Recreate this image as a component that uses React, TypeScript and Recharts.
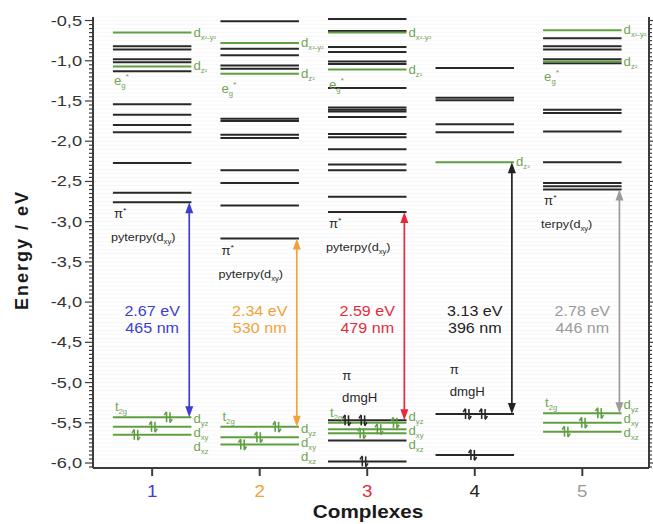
import React from 'react';
import { ComposedChart, XAxis, YAxis, ReferenceLine, Scatter, Label, CartesianGrid } from 'recharts';

const FONT = '"Liberation Sans", Arial, Helvetica, sans-serif';
const GREEN = '#5f9f42';
const GREEN_TEXT = '#72a456';
const DARK = '#282828';
const AXIS = '#3c3c3c';

// Complexes and their accent colours
const complexes = [1, 2, 3, 4, 5];
const complexColors = ['#3d3dd2', '#f2a23a', '#e52b3b', '#222222', '#9b9b9b'];

// Major energy ticks (eV)
const yTickValues = [-6.0, -5.5, -5.0, -4.5, -4.0, -3.5, -3.0, -2.5, -2.0, -1.5, -1.0, -0.5];

// Ligand-centred orbital energies (eV)
const ligandLevels1 = [-0.82, -0.86, -0.98, -1.02, -1.13, -1.54, -1.67, -1.80, -1.89, -2.27, -2.64, -2.76];
const ligandLevels2 = [-0.51, -0.85, -0.93, -1.06, -1.10, -1.72, -1.75, -1.92, -1.96, -2.36, -2.52, -2.80, -3.21];
const ligandLevels3 = [-0.48, -0.63, -0.83, -0.89, -1.01, -1.04, -1.34, -1.58, -1.61, -1.63, -1.70, -1.91, -1.95, -2.10, -2.29, -2.36, -2.69, -2.88, -5.47, -5.72, -5.98];
const ligandLevels4 = [-1.09, -1.46, -1.49, -1.79, -1.89, -5.39, -5.90];
const ligandLevels5 = [-0.72, -0.82, -0.86, -0.98, -1.03, -1.61, -1.65, -1.88, -2.26, -2.52, -2.56, -2.60];

// Metal e_g* levels: d x²-y², d z²
const egLevels1 = [-0.65, -1.07];
const egLevels2 = [-0.78, -1.16];
const egLevels3 = [-0.65, -1.11];
const egLevels4 = [-2.26];
const egLevels5 = [-0.62, -1.01];

// Metal t_2g levels: d yz, d xy, d xz
const t2gLevels1 = [-5.43, -5.55, -5.65];
const t2gLevels2 = [-5.55, -5.68, -5.77];
const t2gLevels3 = [-5.50, -5.58, -5.63];
const t2gLevels4: number[] = [];
const t2gLevels5 = [-5.38, -5.50, -5.61];

// Lowest excitation of each complex
const lumoLevels = [-2.76, -3.21, -2.88, -2.26, -2.60];
const gapEv = [2.67, 2.34, 2.59, 3.13, 2.78];
const gapNm = [465, 530, 479, 396, 446];
const lumoLigand = ['pyterpy', 'pyterpy', 'pyterpy', '', 'terpy'];
const dmgHLevels = [null, null, -5.47, -5.39, null];

// Filled orbitals: [energy, slot along the level]
const electronPairs1 = [[-5.43, 0.15], [-5.55, 0.01], [-5.65, -0.15]];
const electronPairs2 = [[-5.55, 0.16], [-5.68, -0.01], [-5.77, -0.16]];
const electronPairs3 = [[-5.47, -0.19], [-5.47, -0.04], [-5.50, 0.26], [-5.58, 0.11], [-5.63, -0.05], [-5.98, -0.03]];
const electronPairs4 = [[-5.39, -0.07], [-5.39, 0.08], [-5.90, -0.02]];
const electronPairs5 = [[-5.38, 0.16], [-5.50, 0.01], [-5.61, -0.15]];

const ligandLevels = [ligandLevels1, ligandLevels2, ligandLevels3, ligandLevels4, ligandLevels5];
const egLevels = [egLevels1, egLevels2, egLevels3, egLevels4, egLevels5];
const t2gLevels = [t2gLevels1, t2gLevels2, t2gLevels3, t2gLevels4, t2gLevels5];
const electronPairs = [electronPairs1, electronPairs2, electronPairs3, electronPairs4, electronPairs5];

const X_DOMAIN: [number, number] = [0.45, 5.62];
const Y_DOMAIN: [number, number] = [-6.062, -0.456];
const HALF = 0.365;
const ARROW_AT = 0.345;
// vertical shift (px) of the t2g orbital captions relative to the top t2g level
const T2G_CAPTION_SHIFT = [2, 2, -6, 0, -8];

const allTicks: number[] = [];
for (let k = -121; k <= -10; k++) allTicks.push(k / 20);

const isMajor = (v: number) => Math.abs(v * 2 - Math.round(v * 2)) < 1e-6;
const fmt = (v: number) => v.toFixed(1).replace('.', ',');

type Note = { x: number; y: number; kind: string; [k: string]: any };
const notes: Note[] = [];
complexes.forEach((c, i) => {
  const eg = egLevels[i];
  if (eg.length === 2) {
    notes.push({ x: c + HALF, y: eg[0], kind: 'orb', main: 'd', sub: 'x²-y²', dx: 2, dy: 4 });
    notes.push({ x: c + HALF, y: eg[1], kind: 'orb', main: 'd', sub: 'z²', dx: 2, dy: 4 });
    notes.push({ x: c - HALF, y: eg[1], kind: 'orb', main: 'e', sub: 'g', sup: '*', dx: 1, dy: 19 });
  } else if (eg.length === 1) {
    notes.push({ x: c + HALF, y: eg[0], kind: 'orb', main: 'd', sub: 'z²', dx: 2, dy: 4 });
  }
  const t = t2gLevels[i];
  if (t.length === 3) {
    notes.push({ x: c - HALF, y: t[0], kind: 'orb', main: 't', sub: '2g', dx: 2, dy: -6 });
    ['yz', 'xy', 'xz'].forEach((s, k) =>
      notes.push({ x: c + HALF, y: t[0], kind: 'orb', main: 'd', sub: s, dx: 2, dy: 4 + T2G_CAPTION_SHIFT[i] + 14 * k })
    );
  }
  if (lumoLigand[i]) {
    notes.push({ x: c - HALF, y: lumoLevels[i], kind: 'pistar', dx: 1, dy: 16 });
    notes.push({ x: c - HALF, y: lumoLevels[i], kind: 'ligand', name: lumoLigand[i], dx: -2, dy: 39 });
  }
  const dm = dmgHLevels[i];
  if (dm !== null) {
    notes.push({ x: c - 0.19, y: dm, kind: 'plain', text: 'π', dy: -40, color: DARK });
    notes.push({ x: c - 0.07, y: dm, kind: 'plain', text: 'dmgH', dy: -18, color: DARK });
  }
  notes.push({ x: c, y: -4.11, kind: 'energy', text: `${gapEv[i].toFixed(2)} eV`, color: complexColors[i] });
  notes.push({ x: c, y: -4.32, kind: 'energy', text: `${gapNm[i]} nm`, color: complexColors[i] });
  electronPairs[i].forEach(([e, s]) => {
    const green = t.some((v) => Math.abs(v - e) < 1e-6);
    notes.push({ x: c + s, y: e, kind: 'pair', color: green ? GREEN : DARK });
  });
});

const Stretch = ({ x, y, sx = 1.15, children }: any) => (
  <g transform={`translate(${x},${y}) scale(${sx},1)`}>{children}</g>
);

const NoteShape = (p: any) => {
  const { cx, cy, payload } = p;
  if (cx == null || cy == null || !payload) return <g />;
  const n = payload as Note;
  if (n.kind === 'pair') {
    return (
      <g stroke={n.color} strokeWidth={1.6} fill="none">
        <line x1={cx - 1.7} y1={cy + 5} x2={cx - 1.7} y2={cy - 5} />
        <polyline points={`${cx - 4},${cy - 2} ${cx - 1.7},${cy - 5.5}`} />
        <line x1={cx + 1.7} y1={cy - 5} x2={cx + 1.7} y2={cy + 5} />
        <polyline points={`${cx + 4},${cy + 2} ${cx + 1.7},${cy + 5.5}`} />
      </g>
    );
  }
  if (n.kind === 'orb') {
    return (
      <Stretch x={cx + n.dx} y={cy + n.dy} sx={1.1}>
        <text x={0} y={0} fill={GREEN_TEXT} fontSize={12} fontFamily={FONT}>
          {n.main}
          <tspan fontSize={7} dy={3}>{n.sub}</tspan>
          {n.sup ? <tspan fontSize={8} dy={-9}>{n.sup}</tspan> : null}
        </text>
      </Stretch>
    );
  }
  if (n.kind === 'pistar') {
    return (
      <Stretch x={cx + n.dx} y={cy + n.dy} sx={1.1}>
        <text x={0} y={0} fill={DARK} fontSize={12} fontFamily={FONT}>
          π<tspan fontSize={8} dy={-5}>*</tspan>
        </text>
      </Stretch>
    );
  }
  if (n.kind === 'ligand') {
    return (
      <Stretch x={cx + n.dx} y={cy + n.dy} sx={1.1}>
        <text x={0} y={0} fill={DARK} fontSize={11.5} fontFamily={FONT}>
          {n.name}(d<tspan fontSize={7} dy={3}>xy</tspan>
          <tspan dy={-3}>)</tspan>
        </text>
      </Stretch>
    );
  }
  if (n.kind === 'plain') {
    return (
      <Stretch x={cx} y={cy + n.dy} sx={1.1}>
        <text x={0} y={0} fill={n.color} fontSize={12} fontFamily={FONT} textAnchor="middle">
          {n.text}
        </text>
      </Stretch>
    );
  }
  if (n.kind === 'energy') {
    return (
      <Stretch x={cx} y={cy + 5} sx={1.15}>
        <text x={0} y={0} fill={n.color} fontSize={14} fontFamily={FONT} textAnchor="middle">
          {n.text}
        </text>
      </Stretch>
    );
  }
  return <g />;
};

const LeftTick = (p: any) => {
  const { x, y, payload } = p;
  const v = payload.value as number;
  const major = isMajor(v);
  return (
    <g>
      <line x1={x} x2={x - (major ? 8 : 4)} y1={y} y2={y} stroke={AXIS} strokeWidth={1.2} />
      {major ? (
        <Stretch x={x - 11} y={y + 5} sx={1.3}>
          <text x={0} y={0} textAnchor="end" fontSize={14} fontFamily={FONT} fill="#333">
            {fmt(v)}
          </text>
        </Stretch>
      ) : null}
    </g>
  );
};

const RightTick = (p: any) => {
  const { x, y, payload } = p;
  const major = isMajor(payload.value);
  return <line x1={x} x2={x + (major ? 5 : 3)} y1={y} y2={y} stroke={AXIS} strokeWidth={1.2} />;
};

const BottomTick = (p: any) => {
  const { x, y, payload } = p;
  const i = complexes.indexOf(payload.value);
  return (
    <Stretch x={x} y={y + 19} sx={1.1}>
      <text x={0} y={0} textAnchor="middle" fontSize={17} fontFamily={FONT} fill={complexColors[i] ?? '#333'}>
        {payload.value}
      </text>
    </Stretch>
  );
};

const arrowShape = (color: string) => (p: any) => {
  const { x1, y1, y2 } = p;
  const top = Math.min(y1, y2);
  const bot = Math.max(y1, y2);
  const h = 11;
  const w = 4;
  return (
    <g>
      <line x1={x1} x2={x1} y1={top + h - 2} y2={bot - h + 2} stroke={color} strokeWidth={1.7} />
      <polygon points={`${x1},${top} ${x1 - w},${top + h} ${x1 + w},${top + h}`} fill={color} />
      <polygon points={`${x1},${bot} ${x1 - w},${bot - h} ${x1 + w},${bot - h}`} fill={color} />
    </g>
  );
};

export default function App() {
  return (
    <div style={{ position: 'absolute', left: 0, top: 0, width: 653, height: 524, background: '#fff' }}>
      <ComposedChart width={653} height={524} margin={{ top: 17, right: 0, bottom: 0, left: 0 }}>
        <CartesianGrid horizontal vertical={false} stroke="#f7f7f7" strokeWidth={1} />
        <XAxis
          xAxisId={0}
          dataKey="x"
          type="number"
          domain={X_DOMAIN}
          allowDataOverflow
          ticks={complexes}
          interval={0}
          height={56}
          tickSize={8}
          tickMargin={2}
          stroke={AXIS}
          strokeWidth={2}
          tick={BottomTick}
        >
          <Label
            content={() => (
              <Stretch x={368} y={518} sx={1.15}>
                <text x={0} y={0} textAnchor="middle" fontSize={18} fontWeight="bold" fontFamily={FONT} fill="#1a1a1a">
                  Complexes
                </text>
              </Stretch>
            )}
          />
        </XAxis>
        <XAxis
          xAxisId="top"
          orientation="top"
          type="number"
          domain={X_DOMAIN}
          allowDataOverflow
          height={0}
          tick={false}
          tickLine={false}
          stroke={AXIS}
          strokeWidth={2}
        />
        <YAxis
          yAxisId={0}
          dataKey="y"
          type="number"
          domain={Y_DOMAIN}
          allowDataOverflow
          ticks={allTicks}
          interval={0}
          width={93}
          tickSize={0}
          tickMargin={0}
          stroke={AXIS}
          strokeWidth={2}
          tick={LeftTick}
        >
          <Label
            content={() => (
              <text
                transform="translate(28,250) rotate(-90)"
                textAnchor="middle"
                fontSize={18}
                fontWeight="bold"
                letterSpacing={2}
                fontFamily={FONT}
                fill="#1a1a1a"
              >
                Energy / eV
              </text>
            )}
          />
        </YAxis>
        <YAxis
          yAxisId="right"
          orientation="right"
          type="number"
          domain={Y_DOMAIN}
          allowDataOverflow
          ticks={allTicks}
          interval={0}
          width={4}
          tickSize={0}
          tickMargin={0}
          stroke={AXIS}
          strokeWidth={2}
          tick={RightTick}
        />

        {complexes.map((c, i) =>
          ligandLevels[i].map((e, j) => (
            <ReferenceLine
              key={`lig-${i}-${j}`}
              segment={[{ x: c - HALF, y: e }, { x: c + HALF, y: e }]}
              stroke={DARK}
              strokeWidth={2}
            />
          ))
        )}
        {complexes.map((c, i) =>
          [...egLevels[i], ...t2gLevels[i]].map((e, j) => (
            <ReferenceLine
              key={`met-${i}-${j}`}
              segment={[{ x: c - HALF, y: e }, { x: c + HALF, y: e }]}
              stroke={GREEN}
              strokeWidth={2}
            />
          ))
        )}
        {complexes.map((c, i) => (
          <ReferenceLine
            key={`arrow-${i}`}
            segment={[
              { x: c + ARROW_AT, y: lumoLevels[i] },
              { x: c + ARROW_AT, y: lumoLevels[i] - gapEv[i] },
            ]}
            stroke={complexColors[i]}
            shape={arrowShape(complexColors[i])}
          />
        ))}
        <Scatter data={notes} shape={NoteShape} isAnimationActive={false} />
      </ComposedChart>
    </div>
  );
}
